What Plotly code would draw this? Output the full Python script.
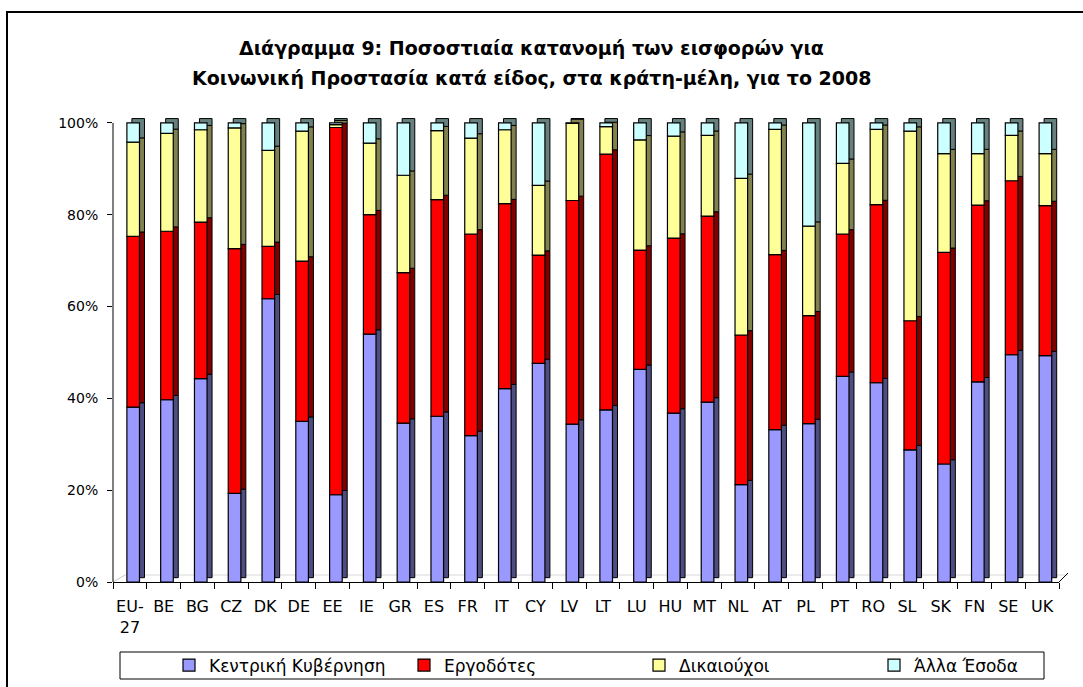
import numpy as np
import plotly.graph_objects as go

# ---------------- data (percent shares, 2008) ----------------
countries = ["EU-27", "BE", "BG", "CZ", "DK", "DE", "EE", "IE", "GR", "ES", "FR", "IT", "CY", "LV",
             "LT", "LU", "HU", "MT", "NL", "AT", "PL", "PT", "RO", "SL", "SK", "FN", "SE", "UK"]
tick_labels = ["EU-<br>27", "BE", "BG", "CZ", "DK", "DE", "EE", "IE", "GR", "ES", "FR", "IT", "CY", "LV",
               "LT", "LU", "HU", "MT", "NL", "AT", "PL", "PT", "RO", "SL", "SK", "FN", "SE", "UK"]

central_gov = [38.1, 39.7, 44.3, 19.3, 61.7, 35.0, 19.0, 54.0, 34.6, 36.1, 31.9, 42.1, 47.6, 34.4,
               37.5, 46.3, 36.8, 39.2, 21.2, 33.2, 34.5, 44.8, 43.4, 28.8, 25.7, 43.6, 49.5, 49.3]
employers = [37.2, 36.7, 34.1, 53.3, 11.4, 34.9, 80.0, 26.0, 32.8, 47.2, 43.9, 40.3, 23.6, 48.7,
             55.7, 26.0, 38.1, 40.5, 32.6, 38.1, 23.5, 31.0, 38.8, 28.1, 46.1, 38.5, 37.9, 32.7]
beneficiaries = [20.5, 21.3, 20.1, 26.3, 20.9, 28.3, 0.6, 15.6, 21.2, 15.0, 20.9, 16.1, 15.2, 16.8,
                 6.0, 24.0, 22.2, 17.6, 34.1, 27.3, 19.5, 15.4, 16.4, 41.3, 21.5, 11.2, 9.9, 11.3]
other_income = [4.2, 2.3, 1.5, 1.1, 6.0, 1.8, 0.4, 4.4, 11.4, 1.7, 3.3, 1.5, 13.6, 0.1,
                0.8, 3.7, 2.9, 2.7, 12.1, 1.4, 22.5, 8.8, 1.4, 1.8, 6.7, 6.7, 2.7, 6.7]

series_names = ["Κεντρική Κυβέρνηση", "Εργοδότες", "Δικαιούχοι", "Άλλα Έσοδα"]
tick_vals = [0, 20, 40, 60, 80, 100]
tick_text = ["0%", "20%", "40%", "60%", "80%", "100%"]
title_lines = ["Διάγραμμα 9: Ποσοστιαία κατανομή των εισφορών για",
               "Κοινωνική Προστασία κατά είδος, στα κράτη-μέλη, για το 2008"]

# ---------------- styles ----------------
front_colors = ["#9999FF", "#FF0000", "#FFFF99", "#CCFFFF"]
side_colors = ["#4D4D80", "#800000", "#808050", "#668080"]
FONT = "DejaVu Sans, Liberation Sans, Arial, sans-serif"
W = 0.373          # front face width (category units)
OFF = -0.089       # front face offset from category centre
DX = 0.148         # depth offset (x)
DY = 0.94          # depth offset (y, axis units)

series = [central_gov, employers, beneficiaries, other_income]
vals = np.array(series, dtype=float)
bases = np.vstack([np.zeros(len(countries)), np.cumsum(vals, axis=0)[:-1]])

fig = go.Figure()

# depth (side/top faces)
for i in range(4):
    fig.add_trace(go.Bar(
        x=countries, y=vals[i], base=bases[i] + DY,
        offset=OFF + DX, width=W,
        marker=dict(color=side_colors[i], line=dict(color="black", width=1)),
        showlegend=False, hoverinfo="skip"))

# front faces
for i in range(4):
    fig.add_trace(go.Bar(
        x=countries, y=vals[i], base=bases[i], name=series_names[i],
        offset=OFF, width=W,
        marker=dict(color=front_colors[i], line=dict(color="black", width=1.2))))

FW, FH = 1083, 687
L, R, T, B = 113, 24, 116, 105
PW, PH = FW - L - R, FH - T - B


def px(x):
    return (x - L) / PW


def py(y):
    return (FH - B - y) / PH


shapes = [
    # outer chart frame (top and left edges; the others lie outside the picture)
    dict(type="line", xref="paper", yref="paper", x0=px(6), x1=px(1083), y0=py(12), y1=py(12),
         line=dict(color="#000000", width=2), layer="above"),
    dict(type="line", xref="paper", yref="paper", x0=px(7), x1=px(7), y0=py(11), y1=py(687),
         line=dict(color="#000000", width=2), layer="above"),
    # legend frame
    dict(type="rect", xref="paper", yref="paper", x0=px(120), x1=px(1044), y0=py(679), y1=py(652),
         line=dict(color="#000000", width=1), fillcolor="rgba(0,0,0,0)", layer="above"),
    # value axis line
    dict(type="line", xref="paper", yref="y", x0=0, x1=0, y0=0, y1=100,
         line=dict(color="#000000", width=1)),
    # floor
    dict(type="line", xref="paper", yref="paper", x0=0, x1=px(125), y0=0, y1=py(575),
         line=dict(color="#C8C8C8", width=1), layer="below"),
    dict(type="line", xref="paper", yref="paper", x0=px(125), x1=px(1068), y0=py(575), y1=py(575),
         line=dict(color="#D8D8D8", width=1), layer="below"),
    dict(type="line", xref="paper", yref="paper", x0=1, x1=px(1068), y0=0, y1=py(573),
         line=dict(color="#000000", width=1)),
]

annotations = [
    dict(text="<b>" + title_lines[0] + "</b>", xref="paper", yref="paper",
         x=px(531), y=py(48), xanchor="center", yanchor="middle", showarrow=False,
         font=dict(family=FONT, size=19, color="black")),
    dict(text="<b>" + title_lines[1] + "</b>", xref="paper", yref="paper",
         x=px(531), y=py(78), xanchor="center", yanchor="middle", showarrow=False,
         font=dict(family=FONT, size=19, color="black")),
]

fig.update_layout(
    width=FW, height=FH,
    margin=dict(l=L, r=R, t=T, b=B, autoexpand=False),
    barmode="overlay",
    paper_bgcolor="white", plot_bgcolor="white",
    font=dict(family=FONT, size=15, color="black"),
    shapes=shapes, annotations=annotations,
    xaxis=dict(type="category", categoryorder="array", categoryarray=countries,
               tickvals=countries, ticktext=tick_labels, tickson="boundaries",
               ticks="outside", ticklen=6, tickcolor="black", showline=True, linecolor="black",
               linewidth=1, showgrid=False, range=[-0.5, len(countries) - 0.5],
               tickfont=dict(family=FONT, size=16), tickangle=0, ticklabelstandoff=10,
               automargin=False),
    yaxis=dict(range=[0, 101.5], tickvals=tick_vals, ticktext=tick_text, ticks="outside",
               ticklen=5, tickcolor="black", showline=False, showgrid=False, zeroline=False,
               tickfont=dict(family=FONT, size=14), ticklabelstandoff=6, automargin=False),
    legend=dict(orientation="h", xref="container", yref="container",
                x=169 / FW, y=1 - 665.5 / FH, xanchor="left", yanchor="middle",
                borderwidth=0, bgcolor="rgba(0,0,0,0)",
                entrywidth=190, entrywidthmode="pixels", itemwidth=30,
                font=dict(family=FONT, size=17), traceorder="normal"),
)

fig.write_html(
    "out.html",
    post_script=("document.body.style.margin='0';"
                 "document.body.style.overflow='hidden';"
                 "document.documentElement.style.overflow='hidden';"),
    config={"displayModeBar": False})
